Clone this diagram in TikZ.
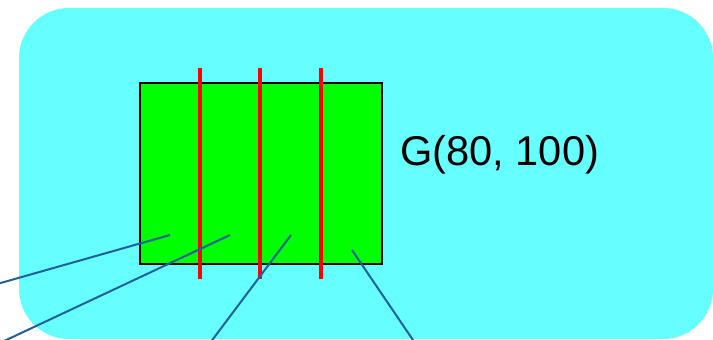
\documentclass[tikz,border=0pt]{standalone}
\usepackage{fontspec}
\setmainfont{Liberation Sans}
\usepackage{tikz}
\definecolor{panelcyan}{HTML}{66FFFF}
\definecolor{blockgreen}{HTML}{00FF00}
\definecolor{cutred}{HTML}{FF0000}
\definecolor{pointerblue}{HTML}{1F5F9A}
\tikzset{
  panel/.style={fill=panelcyan,rounded corners=37.5pt},
  block/.style={rectangle,draw=black,fill=blockgreen,line width=1.3pt,
    inner sep=0pt,minimum width=181.5pt,minimum height=135.75pt},
  cut/.style={draw=cutred,line width=2.4pt},
  pointer/.style={draw=pointerblue,line width=1.5pt},
  caption/.style={anchor=base west,inner sep=0pt,
    font=\fontsize{31.2}{36}\selectfont}
}
\begin{document}
\begin{tikzpicture}[x=0.75pt,y=-0.75pt]
  \useasboundingbox (0,0) rectangle (713,339);
  \fill[panel] (19,8) rectangle (713,339);
  \node[block] (grid) at (261,173.5) {};
  \foreach \x in {200,260,321}
    \draw[cut] (\x,68) -- (\x,279);
  \node[caption] (label) at (400,165) {G(80, 100)};
  % pointers out of the strips
  \coordinate (p1) at (170,235);
  \coordinate (p2) at (230,235);
  \coordinate (p3) at (291,235);
  \coordinate (p4) at (352,250);
  \coordinate (e1) at (-10,286);
  \coordinate (e2) at (2,342);
  \coordinate (e3) at (210,343);
  \coordinate (e4) at (415,343);
  \foreach \i in {1,...,4} \draw[pointer] (p\i) -- (e\i);
\end{tikzpicture}
\end{document}
